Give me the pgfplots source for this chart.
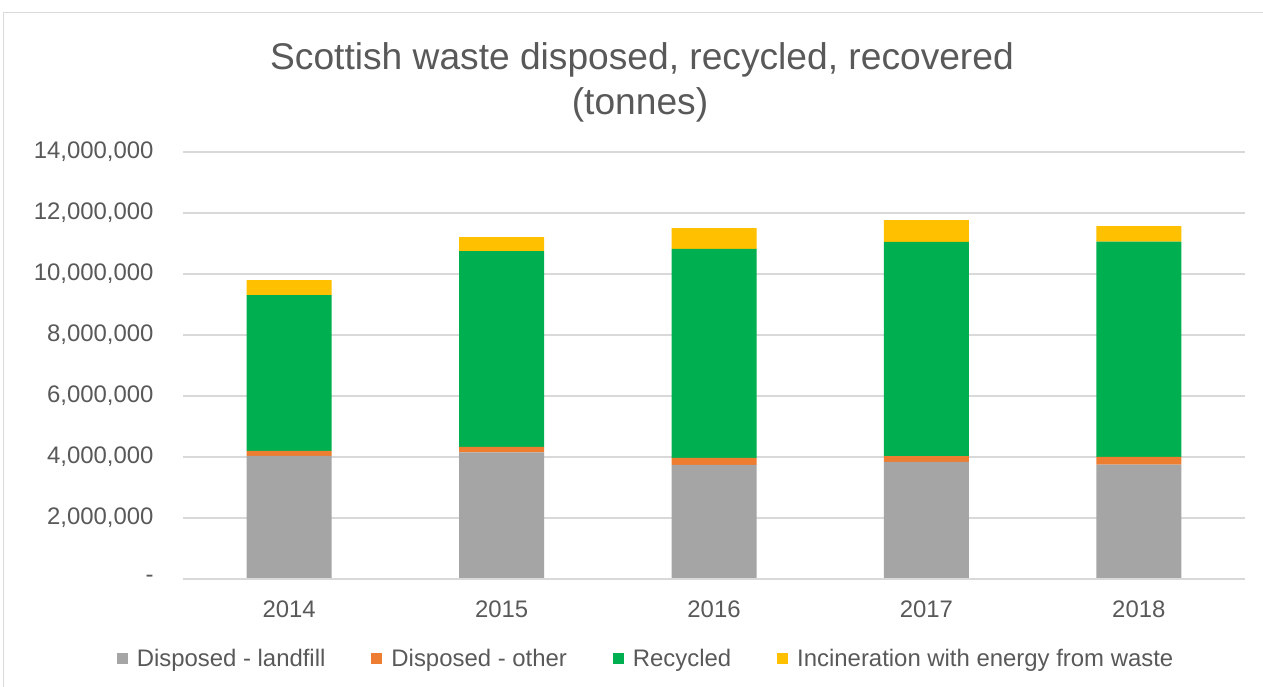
\documentclass[border=0pt]{standalone}
\usepackage{pgfplots}
\pgfplotsset{compat=1.18}
\usepackage{fontspec}
\setmainfont{Liberation Sans}
\definecolor{txt}{HTML}{595959}
\definecolor{gridc}{HTML}{D9D9D9}
\definecolor{cgray}{HTML}{A5A5A5}
\definecolor{corange}{HTML}{ED7D31}
\definecolor{cgreen}{HTML}{00B050}
\definecolor{cyellow}{HTML}{FFC000}
\pgfplotstableread{
x landfill other recycled incin
0 4040000 160000 5110000 490000
1 4150000 180000 6420000 460000
2 3740000 230000 6850000 680000
3 3840000 190000 7020000 720000
4 3750000 250000 7060000 510000
}\wastedata
\begin{document}
\begin{tikzpicture}[x=1bp,y=1bp]
\useasboundingbox (0,0) rectangle (1263,687);
\fill[white] (0,0) rectangle (1263,687);
\draw[gridc, line width=1.5bp] (3.5,-5) -- (3.5,674.5) -- (1270,674.5);
\node[anchor=base, text=txt, font=\fontsize{37.3}{44}\selectfont] at (642,617) {Scottish waste disposed, recycled, recovered};
\node[anchor=base, text=txt, font=\fontsize{37.3}{44}\selectfont] at (640,572) {(tonnes)};
\begin{axis}[
  at={(183bp,108bp)}, anchor=south west,
  scale only axis, width=1062bp, height=427bp,
  ybar stacked, bar width=85bp,
  xmin=-0.5, xmax=4.5, ymin=0, ymax=14000000,
  scaled y ticks=false,
  xtick=data, xticklabels={2014,2015,2016,2017,2018},
  ytick={0,2000000,4000000,6000000,8000000,10000000,12000000,14000000},
  yticklabels={{-},{2,000,000},{4,000,000},{6,000,000},{8,000,000},{10,000,000},{12,000,000},{14,000,000}},
  major tick length=0pt,
  axis line style={draw=none},
  xmajorgrids=false, ymajorgrids=true, grid style={gridc, line width=1.5bp},
  ticklabel style={text=txt, font=\fontsize{24}{28}\selectfont},
  yticklabel style={xshift=-26bp},
  xticklabel style={yshift=-18bp},
  legend columns=4,
  legend style={draw=none, fill=none, at={(0.436,-0.187)}, anchor=center,
    font=\fontsize{24}{28}\selectfont, text=txt,
    /tikz/every odd column/.append style={column sep=7bp},
    /tikz/every even column/.append style={column sep=44bp}},
  legend image code/.code={\fill[#1] (0bp,-5.5bp) rectangle (11bp,5.5bp);},
]
\draw[gridc, line width=1.5bp] (rel axis cs:0,0) -- (rel axis cs:1,0);
\addplot[fill=cgray, draw=none] table[x=x, y=landfill] {\wastedata};
\addplot[fill=corange, draw=none] table[x=x, y=other] {\wastedata};
\addplot[fill=cgreen, draw=none] table[x=x, y=recycled] {\wastedata};
\addplot[fill=cyellow, draw=none] table[x=x, y=incin] {\wastedata};
\legend{Disposed - landfill, Disposed - other, Recycled, Incineration with energy from waste}
\end{axis}
\end{tikzpicture}
\end{document}
